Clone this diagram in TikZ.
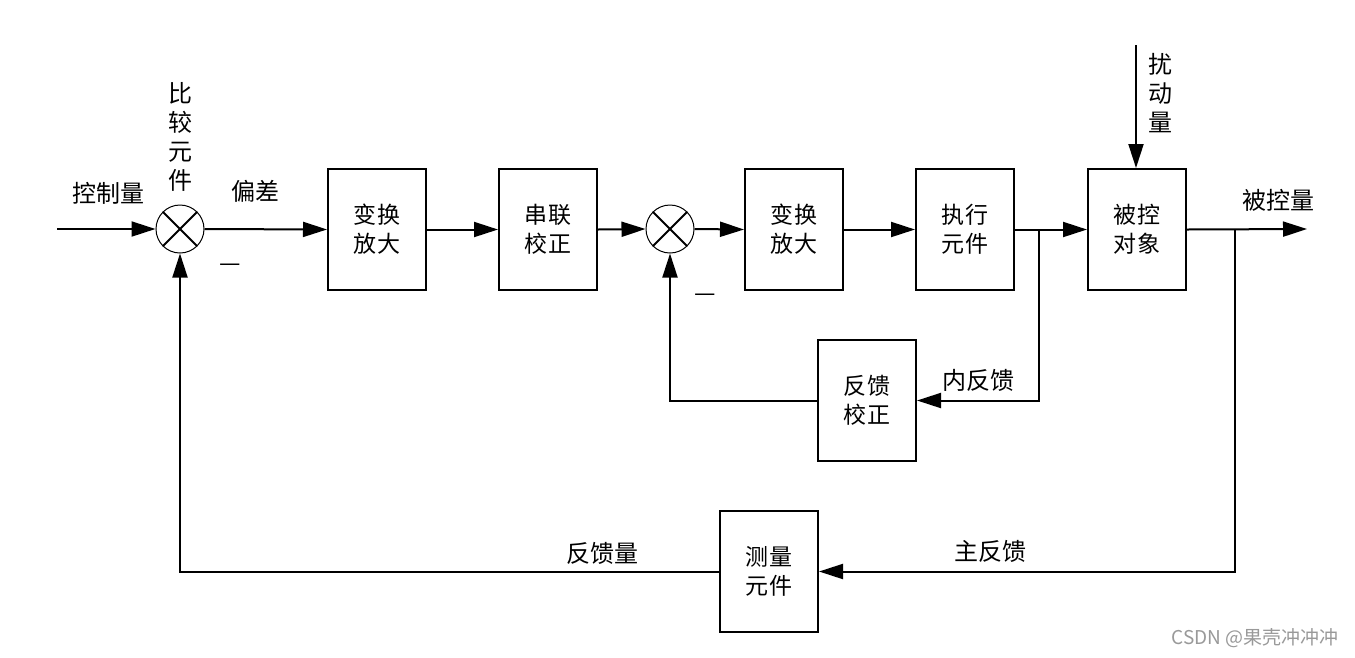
\documentclass[tikz,border=0pt]{standalone}
\usepackage{fontspec}
\setmainfont{Noto Sans CJK SC}
\usetikzlibrary{arrows.meta,calc}
\begin{document}
\begin{tikzpicture}[x=1pt,y=-1pt,
 blk/.style={draw,line width=2pt,minimum width=98pt,minimum height=121pt,inner sep=0pt,align=center,font=\fontsize{23}{29}\selectfont},
 sumc/.style={draw,circle,line width=1pt,minimum size=48pt,inner sep=0pt},
 conn/.style={line width=2pt},
 arr/.style={conn,-{Triangle[length=24pt,width=15pt]}},
 lbl/.style={font=\fontsize{24}{29}\selectfont,inner sep=0pt,align=center}]
\useasboundingbox[fill=white] (0,0) rectangle (1355,657);

% summing junctions
\node[sumc] (s1) at (180,229) {};
\node[sumc] (s2) at (670,229) {};
\foreach \s in {s1,s2}{
  \draw[conn] (\s.north west) -- (\s.south east);
  \draw[conn] (\s.north east) -- (\s.south west);
}

% blocks
\node[blk] (b1) at (377,229.5) {变\hspace{2pt}换\\放\hspace{2pt}大};
\node[blk] (b2) at (548,229.5) {串\hspace{2pt}联\\校\hspace{2pt}正};
\node[blk] (b3) at (794,229.5) {变\hspace{2pt}换\\放\hspace{2pt}大};
\node[blk] (b4) at (965,229.5) {执\hspace{2pt}行\\元\hspace{2pt}件};
\node[blk] (b5) at (1137,229.5) {被\hspace{2pt}控\\对\hspace{2pt}象};
\node[blk] (b6) at (867,400.5) {反\hspace{2pt}馈\\校\hspace{2pt}正};
\node[blk] (b7) at (769,571.5) {测\hspace{2pt}量\\元\hspace{2pt}件};

% coordinates
\coordinate (in) at (57,229);
\coordinate (dist) at (1136,45);
\coordinate (out) at (1307,229);
\coordinate (bi) at (1039,229);
\coordinate (bo) at (1235,229);

% forward path
\draw[arr] (in) -- (s1.west);
\draw[arr] (s1.east) -- (b1.west);
\draw[arr] (b1.east) -- (b2.west);
\draw[arr] (b2.east) -- (s2.west);
\draw[arr] (s2.east) -- (b3.west);
\draw[arr] (b3.east) -- (b4.west);
\draw[arr] (b4.east) -- (b5.west);
\draw[arr] (b5.east) -- (out);
\draw[arr] (dist) -- (b5.north -| dist);

% inner feedback
\draw[arr] (bi) -- (bi |- b6.east) -- (b6.east);
\draw[arr] (b6.west) -| (s2.south);

% main feedback
\draw[arr] (bo) -- (bo |- b7.east) -- (b7.east);
\draw[arr] (b7.west) -| (s1.south);

% labels
\node[lbl] (l1) at (108,193) {控制量};
\node[lbl] (l2) at (180,136.5) {比\\较\\元\\件};
\node[lbl] (l3) at (255,191) {偏差};
\node[lbl] (l4) at (230,268) {—};
\node[lbl] (l5) at (705,298) {—};
\node[lbl] (l6) at (1160,93.5) {扰\\动\\量};
\node[lbl] (l7) at (1278,200) {被控量};
\node[lbl] (l8) at (978,380) {内反馈};
\node[lbl] (l9) at (990,551) {主反馈};
\node[lbl] (l10) at (602,553) {反馈量};
\node[inner sep=0pt,font=\fontsize{19}{21}\selectfont,text=black!40] (wm) at (1255,638) {CSDN @果壳冲冲冲};
\end{tikzpicture}
\end{document}
